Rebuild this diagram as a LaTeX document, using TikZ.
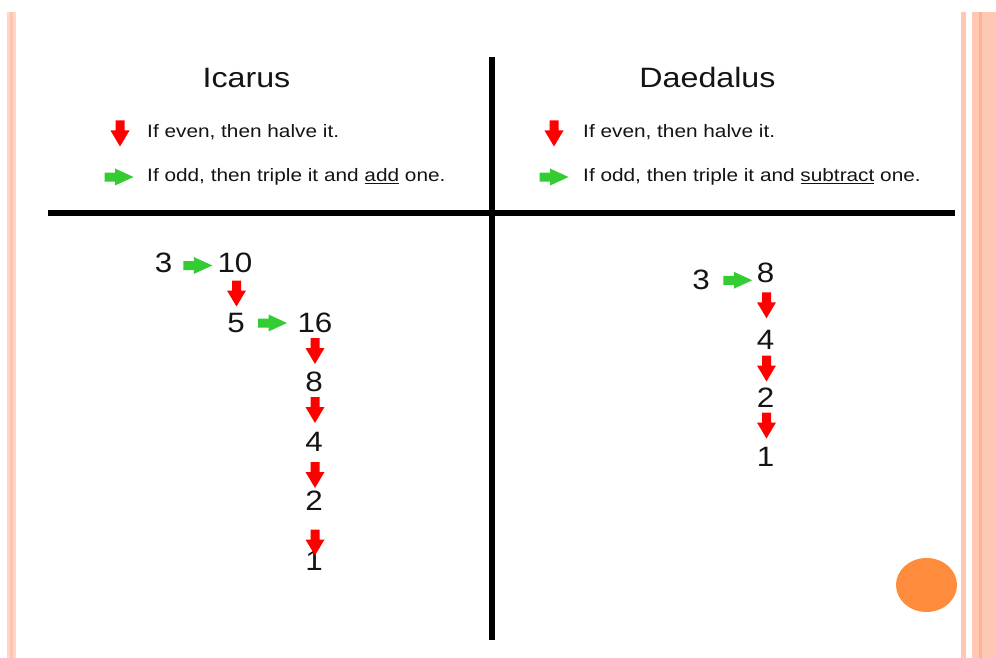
\documentclass[tikz,border=0pt]{standalone}
\usepackage{fontspec}
\setmainfont{Liberation Sans}
\usetikzlibrary{calc}
\definecolor{arred}{RGB}{255,0,0}
\definecolor{argreen}{RGB}{51,204,51}
\definecolor{stripeA}{RGB}{255,214,200}
\definecolor{stripeB}{RGB}{255,196,176}
\definecolor{stripeC}{RGB}{255,200,180}
\definecolor{stripeD}{RGB}{255,178,146}
\definecolor{dotorange}{RGB}{255,139,61}
\definecolor{txt}{RGB}{20,20,20}
\tikzset{
  num/.style={inner sep=0pt, xscale=1.12, text=txt, font=\fontsize{28}{32}\selectfont},
  ttl/.style={inner sep=0pt, xscale=1.15, text=txt, anchor=base, font=\fontsize{28}{32}\selectfont},
  legend/.style={inner sep=0pt, xscale=1.155, text=txt, anchor=base west, font=\fontsize{18}{21}\selectfont},
  bar/.style={line width=6pt, black},
  pics/downarr/.style={code={\fill[arred] (-4.5,-13)--(4.5,-13)--(4.5,-3)--(9.5,-3)--(0,13)--(-9.5,-3)--(-4.5,-3)--cycle;}},
  pics/rightarr/.style={code={\fill[argreen] (-14.5,-4.5)--(-4,-4.5)--(-4,-8.5)--(14.5,0)--(-4,8.5)--(-4,4.5)--(-14.5,4.5)--cycle;}}
}
\begin{document}
\begin{tikzpicture}[x=1pt,y=-1pt]
\useasboundingbox (0,0) rectangle (996,658);
\fill[white] (0,0) rectangle (996,658);
% border stripes
\fill[stripeA] (7,12) rectangle (16,658);
\fill[stripeB] (10,12) rectangle (13,658);
\fill[stripeC] (961,12) rectangle (966,658);
\fill[stripeC] (972,12) rectangle (996,658);
\fill[stripeD] (978.5,12) rectangle (981.5,658);
% cross
\draw[bar] (491.5,57) -- (491.5,640);
\draw[bar] (48,213) -- (955,213);
% titles
\node[ttl] (ti) at (246.5,88) {Icarus};
\node[ttl] (td) at (707.5,88) {Daedalus};
% legends
\node[legend] (le1) at (147,138) {If even, then halve it.};
\node[legend] (lo1) at (147,182) {If odd, then triple it and \underline{add} one.};
\node[legend] (le2) at (583,138) {If even, then halve it.};
\node[legend] (lo2) at (583,182) {If odd, then triple it and \underline{subtract} one.};
\pic at (120,133.5) {downarr};
\pic at (119,177) {rightarr};
\pic at (554,133.5) {downarr};
\pic at (554,177) {rightarr};
% Icarus sequence
\node[num] (a3) at (163.5,263) {3};
\node[num] (a10) at (235,263) {10};
\node[num] (a5) at (236,323) {5};
\node[num] (a16) at (315,323) {16};
\node[num] (a8) at (314,382) {8};
\node[num] (a4) at (314,442) {4};
\node[num] (a2) at (314,501) {2};
\node[num] (a1) at (314,561) {1};
\pic at ($(a3)!0.5!(a10)+(-1.5,2.5)$) {rightarr};
\pic at ($(a10)!0.5!(a5)+(1,0.5)$) {downarr};
\pic at ($(a5)!0.5!(a16)+(-3,0)$) {rightarr};
\pic at ($(a16)!0.5!(a8)+(0.5,-1.5)$) {downarr};
\pic at ($(a8)!0.5!(a4)+(1,-2)$) {downarr};
\pic at ($(a4)!0.5!(a2)+(1,3.5)$) {downarr};
\pic at ($(a2)!0.5!(a1)+(1,11.5)$) {downarr};
% Daedalus sequence
\node[num] (b3) at (701,280) {3};
\node[num] (b8) at (765.5,272.5) {8};
\node[num] (b4) at (765.5,340) {4};
\node[num] (b2) at (765.5,398) {2};
\node[num] (b1) at (765.5,457) {1};
\pic at ($(b3)!0.5!(b8)+(4.5,4)$) {rightarr};
\pic at ($(b8)!0.5!(b4)+(1,-1)$) {downarr};
\pic at ($(b4)!0.5!(b2)+(1,-0.5)$) {downarr};
\pic at ($(b2)!0.5!(b1)+(1,-2)$) {downarr};
% orange dot
\fill[dotorange] (926.5,585) ellipse [x radius=30.5, y radius=27];
\end{tikzpicture}
\end{document}
